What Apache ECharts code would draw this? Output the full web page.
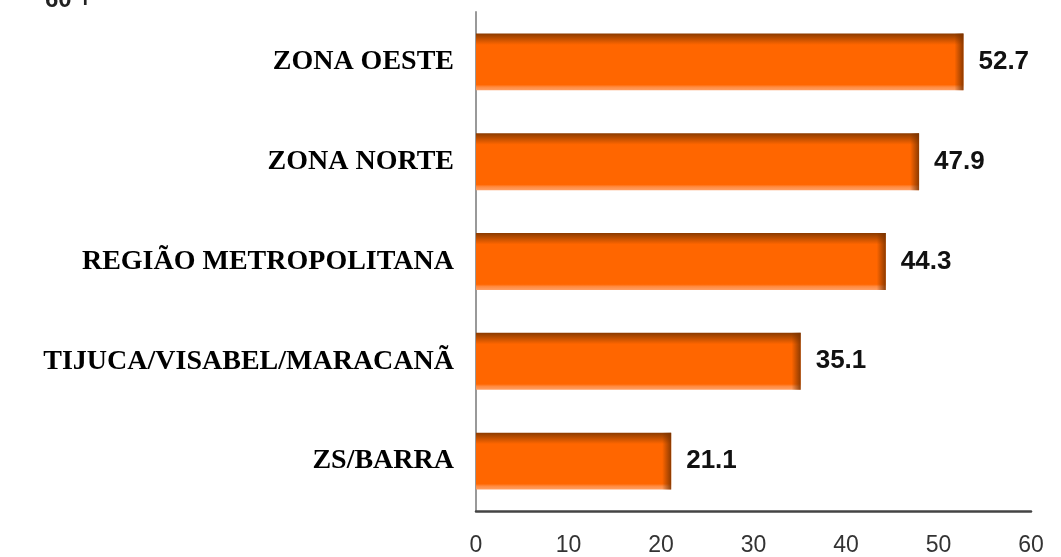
<!DOCTYPE html>
<html>
<head>
<meta charset="utf-8">
<script src="https://cdn.jsdelivr.net/npm/echarts@6/dist/echarts.min.js"></script>
<style>html,body{margin:0;padding:0;background:#fff;}#c{width:1061px;height:557px;}</style>
</head>
<body>
<div id="c"></div>
<script>
var categories = ['ZS/BARRA', 'TIJUCA/VISABEL/MARACANÃ', 'REGIÃO METROPOLITANA', 'ZONA NORTE', 'ZONA OESTE'];
var values = [21.1, 35.1, 44.3, 47.9, 52.7];
var titleText = '60 +';

var chart = echarts.init(document.getElementById('c'));
var pxPerUnit = (1061 - 476 - 30) / 60;
chart.setOption({
  backgroundColor: '#ffffff',
  animation: false,
  graphic: [{
    type: 'text', left: 45, top: -12,
    style: { text: titleText, font: 'bold 24px "Liberation Sans", Arial, sans-serif', fill: '#222' }
  }],
  grid: { left: 476, right: 30, top: 12, bottom: 45, containLabel: false },
  xAxis: {
    type: 'value', min: 0, max: 60, interval: 10,
    axisLine: { show: true, lineStyle: { color: '#444', width: 2.5 } },
    axisTick: { show: false },
    splitLine: { show: false },
    axisLabel: { color: '#333', fontSize: 23, fontFamily: '"Liberation Sans", Arial, sans-serif', margin: 23 }
  },
  yAxis: {
    type: 'category', data: categories,
    axisLine: { show: true, lineStyle: { color: '#999', width: 2 } },
    axisTick: { show: false },
    axisLabel: { color: '#000', fontSize: 28, fontWeight: 'bold', fontFamily: '"Liberation Serif", "Times New Roman", serif', margin: 22 }
  },
  series: [{
    type: 'bar', data: values, barWidth: '57%',
    itemStyle: {
      color: new echarts.graphic.LinearGradient(0, 0, 0, 1, [
        { offset: 0, color: '#8a3a00' },
        { offset: 0.05, color: '#a84600' },
        { offset: 0.2, color: '#ff6600' },
        { offset: 0.9, color: '#ff6600' },
        { offset: 0.94, color: '#ff8a40' },
        { offset: 1, color: '#ffa066' }
      ])
    },
    label: {
      show: true, position: 'right', distance: 15,
      formatter: function (p) { return p.value.toFixed(1); },
      color: '#111', fontSize: 26, fontWeight: 'bold', fontFamily: '"Liberation Sans", Arial, sans-serif'
    }
  }, {
    type: 'bar', data: values, barWidth: '57%', barGap: '-100%', silent: true,
    itemStyle: {
      color: function (p) {
        var f = 1 - 9 / (p.value * pxPerUnit);
        return new echarts.graphic.LinearGradient(0, 0, 1, 0, [
          { offset: 0, color: 'rgba(120,50,0,0)' },
          { offset: f, color: 'rgba(120,50,0,0)' },
          { offset: 1, color: 'rgba(120,50,0,0.85)' }
        ]);
      }
    }
  }]
});
</script>
</body>
</html>
